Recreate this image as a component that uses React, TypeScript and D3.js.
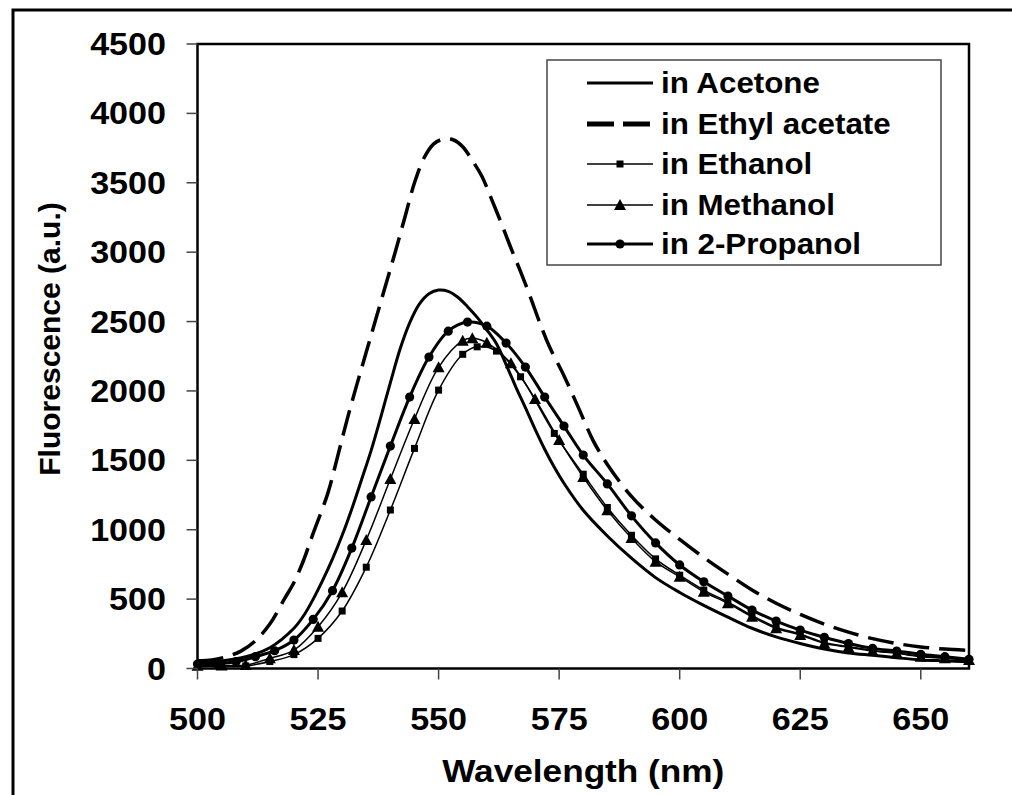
import React from "react";
import * as d3 from "d3";

// ---------- data ----------
const xTicks = [500, 525, 550, 575, 600, 625, 650];
const yTicks = [0, 500, 1000, 1500, 2000, 2500, 3000, 3500, 4000, 4500];

const acetoneX = [500, 505, 510, 515, 520, 522, 524, 526, 528, 530, 532, 534, 536, 538, 540, 542, 544, 546, 548, 550, 552, 554, 556, 558, 560, 562, 564, 566, 568, 570, 572, 574, 576, 580, 585, 590, 595, 600, 605, 610, 615, 620, 625, 630, 635, 640, 645, 650, 655, 660];
const acetoneY = [40, 55, 85, 150, 290, 380, 500, 638, 790, 960, 1150, 1358, 1570, 1810, 2060, 2300, 2490, 2625, 2700, 2727, 2718, 2675, 2607, 2530, 2440, 2340, 2190, 2030, 1880, 1725, 1580, 1450, 1335, 1140, 955, 795, 655, 548, 455, 370, 290, 228, 180, 140, 112, 95, 78, 62, 55, 48];

const ethylX = [500, 503, 506, 509, 512, 515, 518, 520, 522, 524, 527, 529, 531, 533, 535, 537, 539, 541, 543, 545, 547, 549, 551, 553, 555, 557, 559, 561, 563, 565, 567, 569, 571, 573, 576, 579, 582, 585, 590, 595, 600, 605, 610, 615, 620, 625, 630, 635, 640, 645, 650, 655, 660];
const ethylY = [55, 62, 85, 125, 200, 320, 500, 620, 780, 975, 1260, 1520, 1790, 2040, 2280, 2520, 2760, 3000, 3250, 3500, 3680, 3780, 3815, 3810, 3760, 3660, 3545, 3380, 3210, 3030, 2860, 2680, 2490, 2318, 2110, 1880, 1646, 1470, 1240, 1070, 930, 800, 680, 566, 470, 390, 320, 262, 215, 180, 155, 140, 130];

const ethanolX = [500, 505, 510, 515, 520, 525, 530, 535, 540, 545, 550, 555, 558, 562, 567, 574, 580, 585, 590, 595, 600, 605, 610, 615, 620, 625, 630, 635, 640, 645, 650, 655, 660];
const ethanolY = [15, 15, 18, 50, 100, 217, 414, 730, 1142, 1586, 2006, 2264, 2318, 2287, 2102, 1694, 1400, 1160, 960, 790, 672, 565, 478, 382, 298, 248, 188, 158, 130, 112, 88, 75, 62];

const methanolX = [500, 505, 510, 515, 520, 525, 530, 535, 540, 545, 550, 555, 557, 560, 565, 570, 575, 580, 585, 590, 595, 600, 605, 610, 615, 620, 625, 630, 635, 640, 645, 650, 655, 660];
const methanolY = [20, 22, 25, 73, 133, 301, 549, 926, 1365, 1798, 2170, 2362, 2379, 2347, 2199, 1942, 1646, 1380, 1140, 940, 770, 661, 553, 470, 373, 290, 241, 181, 153, 126, 109, 85, 73, 61];

const propanolX = [500, 504, 508, 512, 516, 520, 524, 528, 532, 536, 540, 544, 548, 552, 556, 560, 564, 568, 572, 576, 580, 585, 590, 595, 600, 605, 610, 615, 620, 625, 630, 635, 640, 645, 650, 655, 660];
const propanolY = [32, 35, 49, 85, 128, 205, 354, 561, 868, 1236, 1603, 1956, 2244, 2431, 2496, 2467, 2345, 2172, 1956, 1747, 1538, 1330, 1100, 905, 746, 625, 522, 421, 342, 277, 225, 180, 145, 126, 102, 85, 66];

const legendLabels = ["in Acetone", "in Ethyl acetate", "in Ethanol", "in Methanol", "in 2-Propanol"];

// ---------- layout ----------
const W = 1012;
const H = 795;
const L = 197.5, R = 969, T = 44, B = 668.5;
const FONT = "'Liberation Sans', Arial, Helvetica, sans-serif";

const x = d3.scaleLinear().domain([500, 660]).range([L, R]);
const y = d3.scaleLinear().domain([0, 4500]).range([B, T]);

type Series = {
  xs: number[];
  ys: number[];
  width: number;
  dash?: string;
  marker?: "square" | "triangle" | "circle";
};

const series: Series[] = [
  { xs: acetoneX, ys: acetoneY, width: 3 },
  { xs: ethylX, ys: ethylY, width: 3.5, dash: "26,10" },
  { xs: ethanolX, ys: ethanolY, width: 1.5, marker: "square" },
  { xs: methanolX, ys: methanolY, width: 1.5, marker: "triangle" },
  { xs: propanolX, ys: propanolY, width: 3, marker: "circle" },
];

const line = d3
  .line<[number, number]>()
  .x((d) => x(d[0]))
  .y((d) => y(d[1]))
  .curve(d3.curveCatmullRom.alpha(0.5));

function Marker({ kind, cx, cy }: { kind: string; cx: number; cy: number }) {
  if (kind === "square") return <rect x={cx - 3.5} y={cy - 3.5} width={7} height={7} fill="#000" />;
  if (kind === "triangle")
    return <path d={`M${cx},${cy - 6} L${cx + 6},${cy + 5} L${cx - 6},${cy + 5} Z`} fill="#000" />;
  return <circle cx={cx} cy={cy} r={4.6} fill="#000" />;
}

export default function App() {
  const legX = 547, legY = 60, legW = 394, legH = 205;
  const rowY = [83, 124, 164, 205, 244];
  return (
    <svg
      width={W}
      height={H}
      style={{ position: "absolute", left: 0, top: 0, background: "#fff" }}
      fontFamily={FONT}
    >
      <rect x={0} y={0} width={W} height={H} fill="#fff" />
      {/* outer chart frame: only left and top edges are inside the picture */}
      <path d={`M13,${H + 10} V10 H${W + 10}`} fill="none" stroke="#000" strokeWidth={3} />

      {/* series */}
      {series.map((s, i) => {
        const pts: [number, number][] = s.xs.map((v, j) => [v, s.ys[j]]);
        return (
          <g key={i}>
            <path
              d={line(pts) || ""}
              fill="none"
              stroke="#000"
              strokeWidth={s.width}
              strokeDasharray={s.dash}
              strokeLinejoin="round"
            />
            {s.marker &&
              pts.map((p, j) => <Marker key={j} kind={s.marker!} cx={x(p[0])} cy={y(p[1])} />)}
          </g>
        );
      })}

      {/* plot frame */}
      <rect x={L} y={T} width={R - L} height={B - T} fill="none" stroke="#000" strokeWidth={2.5} />

      {/* y ticks */}
      {yTicks.map((t) => (
        <g key={t}>
          <line x1={L - 11} x2={L} y1={y(t)} y2={y(t)} stroke="#444" strokeWidth={1.5} />
          <text
            transform={`translate(166,${y(t) + 11}) scale(1.1,1)`}
            textAnchor="end"
            fontSize={31}
            fontWeight="bold"
          >
            {t}
          </text>
        </g>
      ))}

      {/* x ticks */}
      {xTicks.map((t) => (
        <g key={t}>
          <line x1={x(t)} x2={x(t)} y1={B} y2={B + 11} stroke="#444" strokeWidth={1.5} />
          <text
            transform={`translate(${x(t)},730) scale(1.1,1)`}
            textAnchor="middle"
            fontSize={31}
            fontWeight="bold"
          >
            {t}
          </text>
        </g>
      ))}

      {/* axis titles */}
      <text
        transform={`translate(${(L + R) / 2},782) scale(1.1,1)`}
        textAnchor="middle"
        fontSize={32}
        fontWeight="bold"
      >
        Wavelength (nm)
      </text>
      <text
        transform={`translate(60,339) rotate(-90)`}
        textAnchor="middle"
        fontSize={30}
        fontWeight="bold"
      >
        Fluorescence (a.u.)
      </text>

      {/* legend */}
      <rect x={legX} y={legY} width={legW} height={legH} fill="#fff" stroke="#444" strokeWidth={1.5} />
      {legendLabels.map((lab, i) => {
        const s = series[i];
        const cy = rowY[i];
        return (
          <g key={lab}>
            <line
              x1={587}
              x2={653}
              y1={cy}
              y2={cy}
              stroke="#000"
              strokeWidth={s.dash ? 5 : s.width}
              strokeDasharray={s.dash ? "27,9" : undefined}
            />
            {s.marker && <Marker kind={s.marker} cx={620} cy={cy} />}
            <text
              transform={`translate(661,${cy + 10}) scale(1.08,1)`}
              fontSize={29}
              fontWeight="bold"
            >
              {lab}
            </text>
          </g>
        );
      })}
    </svg>
  );
}
